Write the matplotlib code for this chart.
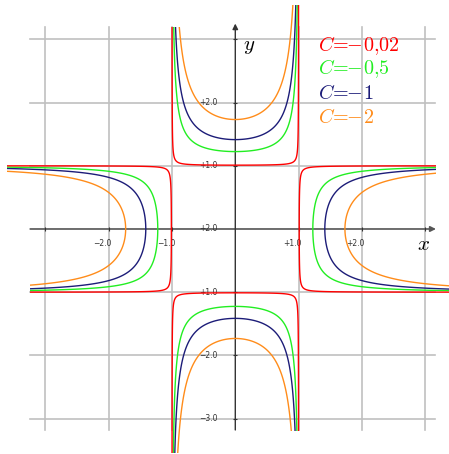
import numpy as np
import matplotlib.pyplot as plt
from matplotlib.patches import Polygon

plt.rcParams['mathtext.fontset'] = 'cm'

# level curves (x^2 - 1)(y^2 - 1) = C
c_values = [-0.02, -0.5, -1, -2]
c_labels = [r'$C\!=\!\!\!-\!0{,}02$', r'$C\!=\!\!\!-\!0{,}5$',
            r'$C\!=\!\!\!-\!1$', r'$C\!=\!\!\!-\!2$']
c_colors = ['#ff0000', '#22ee22', '#1c1c78', '#ff8c1a']

x_ticks = [-2, -1, 1, 2]
x_tick_labels = ['\u22122.0', '\u22121.0', '+1.0', '+2.0']
y_ticks = [2, 1, 0, -1, -2, -3]
y_tick_labels = ['+2.0', '+1.0', '+2.0', '+1.0', '\u22122.0', '\u22123.0']

grid_vals = [-3, -2, -1, 1, 2, 3]

fig = plt.figure(figsize=(4.49, 4.54), dpi=100)
ax = fig.add_axes([0, 0, 1, 1])
ax.set_xlim(-3.717, 3.376)
ax.set_ylim(-3.56, 3.623)
ax.axis('off')

x_lo, x_hi = -3.24, 3.15
y_lo, y_hi = -3.18, 3.2

# grid
for g in grid_vals:
    ax.plot([g, g], [y_lo, y_hi], color='#c0c0c0', lw=1.2, zorder=1)
    ax.plot([x_lo, x_hi], [g, g], color='#c0c0c0', lw=1.2, zorder=1)

# axes with arrows
ax.annotate('', xy=(x_hi + 0.02, 0), xytext=(x_lo, 0),
            arrowprops=dict(arrowstyle='-|>', color='#555555', lw=1.2,
                            mutation_scale=8, shrinkA=0, shrinkB=0), zorder=2)
ax.annotate('', xy=(0, y_hi + 0.05), xytext=(0, y_lo),
            arrowprops=dict(arrowstyle='-|>', color='#333333', lw=1.0,
                            mutation_scale=8, shrinkA=0, shrinkB=0), zorder=2)
ax.plot(grid_vals, [0] * len(grid_vals), ls='none', marker='|', ms=3,
        mew=0.8, color='#333333', zorder=2)
ax.plot([0] * len(grid_vals), grid_vals, ls='none', marker='_', ms=3,
        mew=0.8, color='#333333', zorder=2)

for t, lab in zip(x_ticks, x_tick_labels):
    ax.text(t - 0.095, -0.237, lab, fontsize=5.5, color='#333333',
            ha='center', va='center', zorder=2)
for t, lab in zip(y_ticks, y_tick_labels):
    ax.text(-0.28, t, lab, fontsize=5.5, color='#333333',
            ha='right', va='center', zorder=2)

ax.text(0.12, 2.9, r'$y$', fontsize=15, ha='left', va='center')
ax.text(2.98, -0.24, r'$x$', fontsize=15, ha='center', va='center')

# curves
xs = np.linspace(-3.75, 3.45, 2401)
ys = np.linspace(-3.6, 3.6, 2401)
X, Y = np.meshgrid(xs, ys)
F = (X ** 2 - 1) * (Y ** 2 - 1)
order = np.argsort(c_values)
cs = ax.contour(X, Y, F, levels=[c_values[i] for i in order],
                colors=[c_colors[i] for i in order], linewidths=1.0,
                linestyles='solid', zorder=3)

# branches are cut at slightly different lengths in each quadrant
clip_xy = [(-1.3, 3.2), (0, 3.2), (0, 3.55), (1.3, 3.55), (1.3, 1.3),
           (3.17, 1.3), (3.17, 0), (3.4, 0), (3.4, -1.3), (1.3, -1.3),
           (1.3, -3.2), (0, -3.2), (0, -3.55), (-1.3, -3.55), (-1.3, -1.3),
           (-3.25, -1.3), (-3.25, 0), (-3.6, 0), (-3.6, 1.3), (-1.3, 1.3)]
clip = Polygon(clip_xy, closed=True, transform=ax.transData)
cs.set_clip_path(clip)

leg_y = [2.91, 2.54, 2.14, 1.77]
for lab, col, yy in zip(c_labels, c_colors, leg_y):
    ax.text(1.3, yy, lab, fontsize=14.5, color=col, ha='left', va='center',
            zorder=4)

fig.savefig('out.png', dpi=100)
